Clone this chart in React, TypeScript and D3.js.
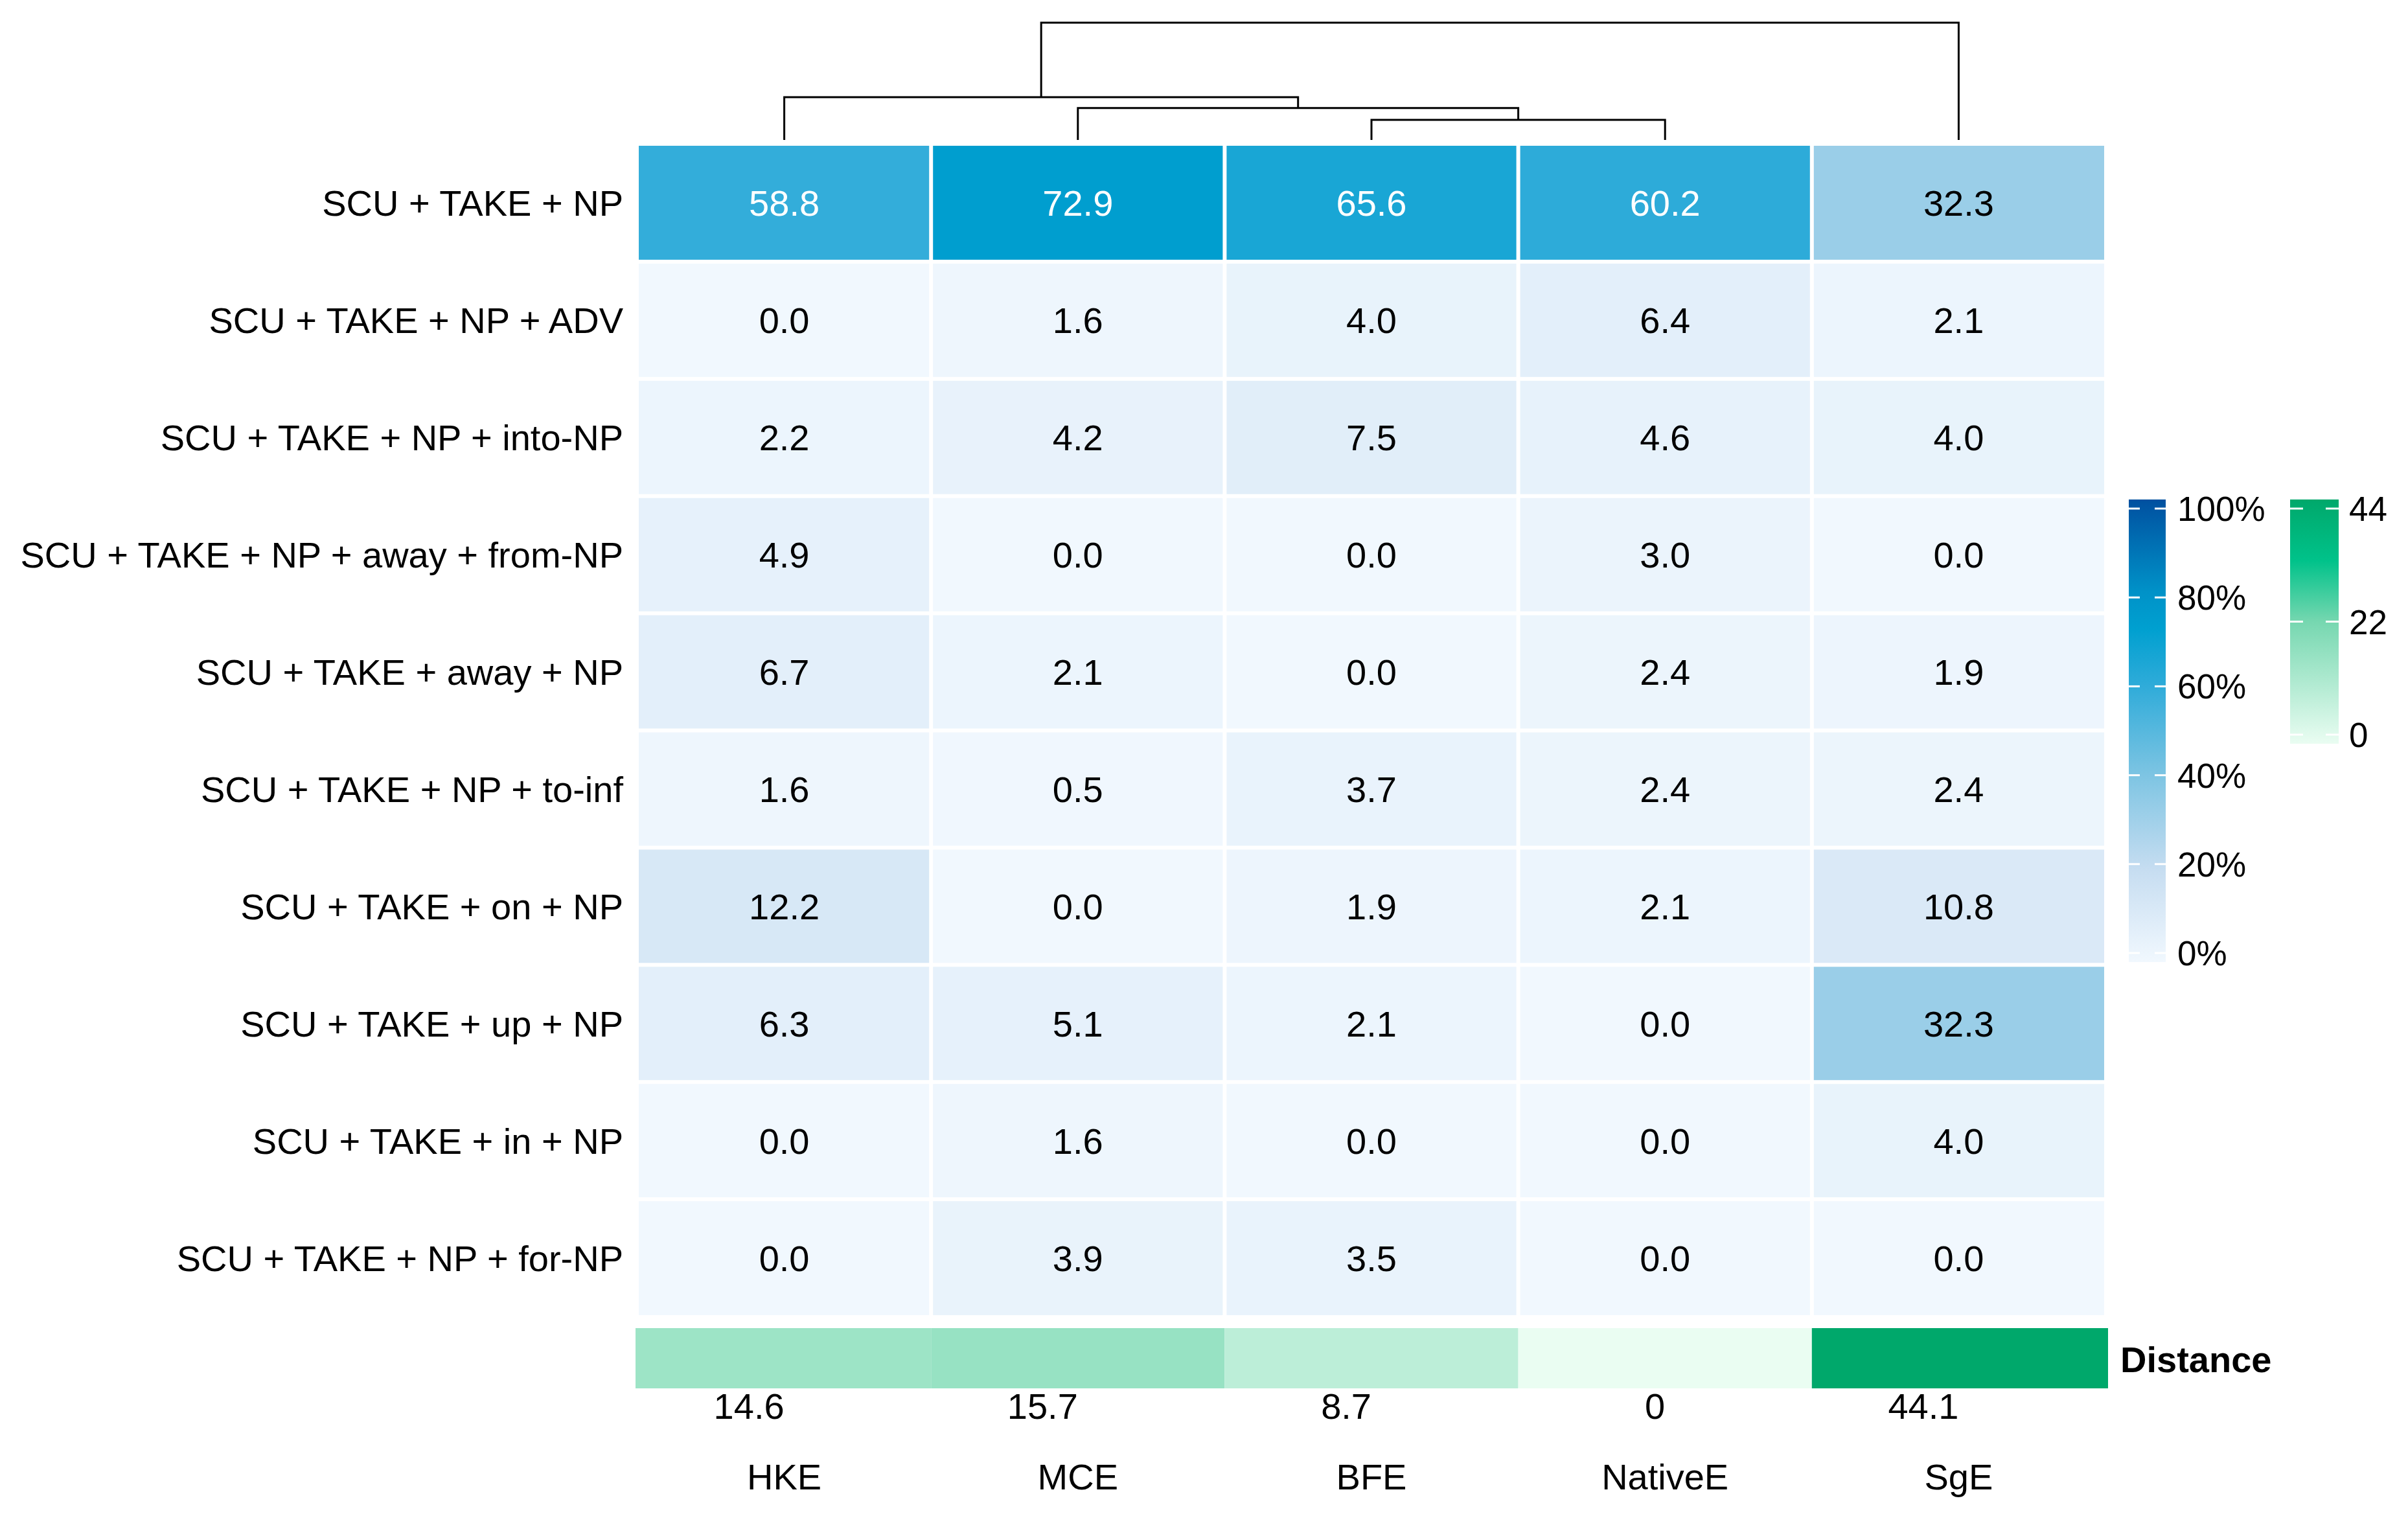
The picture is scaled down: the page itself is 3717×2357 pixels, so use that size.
import React, { useEffect } from "react";
import * as d3 from "d3";

const rowLabels = [
  "SCU + TAKE + NP",
  "SCU + TAKE + NP + ADV",
  "SCU + TAKE + NP + into-NP",
  "SCU + TAKE + NP + away + from-NP",
  "SCU + TAKE + away + NP",
  "SCU + TAKE + NP + to-inf",
  "SCU + TAKE + on + NP",
  "SCU + TAKE + up + NP",
  "SCU + TAKE + in + NP",
  "SCU + TAKE + NP + for-NP",
];
const columns = ["HKE", "MCE", "BFE", "NativeE", "SgE"];
const HKE = [58.8, 0.0, 2.2, 4.9, 6.7, 1.6, 12.2, 6.3, 0.0, 0.0];
const MCE = [72.9, 1.6, 4.2, 0.0, 2.1, 0.5, 0.0, 5.1, 1.6, 3.9];
const BFE = [65.6, 4.0, 7.5, 0.0, 0.0, 3.7, 1.9, 2.1, 0.0, 3.5];
const NativeE = [60.2, 6.4, 4.6, 3.0, 2.4, 2.4, 2.1, 0.0, 0.0, 0.0];
const SgE = [32.3, 2.1, 4.0, 0.0, 1.9, 2.4, 10.8, 32.3, 4.0, 0.0];
const seriesValues = [HKE, MCE, BFE, NativeE, SgE];
const distance = [14.6, 15.7, 8.7, 0, 44.1];
const distanceLabels = ["14.6", "15.7", "8.7", "0", "44.1"];

// dendrogram merges: [left, right, height]; leaves are column names
const merges: [string, string, number, string][] = [
  ["BFE", "NativeE", 8.7, "m1"],
  ["MCE", "m1", 13.8, "m2"],
  ["HKE", "m2", 18.5, "m3"],
  ["m3", "SgE", 50.8, "root"],
];

const pctTicks = [0, 20, 40, 60, 80, 100];
const pctTickLabels = ["0%", "20%", "40%", "60%", "80%", "100%"];
const distTicks = [0, 22, 44];
const distTickLabels = ["0", "22", "44"];

const blueStops = [0, 20, 40, 60, 72, 80, 100];
const blueColors = ["#f1f8fe", "#c6ddf1", "#7fc5e3", "#2eabd9", "#00a0d0", "#0092c8", "#0050a0"];
const greenStops = [0, 22, 33, 44];
const greenColors = ["#eafdf2", "#76d7b0", "#00c28a", "#00a86b"];

const FONT = "'Liberation Sans', Arial, Helvetica, sans-serif";

export default function App() {
  useEffect(() => {
    document.body.style.margin = "0";
  }, []);

  const W = 3717;
  const H = 2357;
  const hx0 = 984, hx1 = 3250, hy0 = 223, hy1 = 2032;

  const x = d3.scaleBand<string>().domain(columns).range([hx0, hx1]);
  const y = d3.scaleBand<string>().domain(rowLabels).range([hy0, hy1]);
  const blue = d3.scaleLinear<string>().domain(blueStops).range(blueColors).interpolate(d3.interpolateRgb).clamp(true);
  const green = d3.scaleLinear<string>().domain(greenStops).range(greenColors).interpolate(d3.interpolateRgb).clamp(true);

  const dendY = d3.scaleLinear().domain([0, 50.8]).range([216, 35]);

  // compute node positions
  const pos: Record<string, { x: number; h: number }> = {};
  columns.forEach((c) => (pos[c] = { x: x(c)! + x.bandwidth() / 2, h: 0 }));
  const dendPaths: string[] = [];
  merges.forEach(([a, b, h, id]) => {
    const pa = pos[a], pb = pos[b];
    const yy = dendY(h);
    const p = d3.path();
    p.moveTo(pa.x, dendY(pa.h));
    p.lineTo(pa.x, yy);
    p.lineTo(pb.x, yy);
    p.lineTo(pb.x, dendY(pb.h));
    dendPaths.push(p.toString());
    pos[id] = { x: (pa.x + pb.x) / 2, h };
  });

  const legPct = d3.scaleLinear().domain([0, 100]).range([1471, 785]);
  const legDist = d3.scaleLinear().domain([0, 44]).range([1134, 785]);

  const annY0 = 2050, annY1 = 2143;
  const gap = 3;

  return (
    <svg width={W} height={H} viewBox={`0 0 ${W} ${H}`} style={{ display: "block", background: "#fff" }} fontFamily={FONT}>
      <defs>
        <linearGradient id="blueGrad" x1="0" y1="1" x2="0" y2="0">
          {blueStops.map((s, i) => (
            <stop key={i} offset={`${s}%`} stopColor={blueColors[i]} />
          ))}
        </linearGradient>
        <linearGradient id="greenGrad" x1="0" y1="1" x2="0" y2="0">
          {greenStops.map((s, i) => (
            <stop key={i} offset={`${(s / 44) * 100}%`} stopColor={greenColors[i]} />
          ))}
        </linearGradient>
      </defs>

      {/* dendrogram */}
      <g fill="none" stroke="#000" strokeWidth={3}>
        {dendPaths.map((d, i) => (
          <path key={i} d={d} />
        ))}
      </g>

      {/* heatmap cells */}
      {columns.map((c, ci) =>
        rowLabels.map((r, ri) => {
          const v = seriesValues[ci][ri];
          const cx = x(c)!, cy = y(r)!;
          return (
            <g key={`${c}-${ri}`}>
              <rect
                x={cx + (ci === 0 ? 2 : gap)}
                y={cy + (ri === 0 ? 2 : gap)}
                width={x.bandwidth() - (ci === 0 ? 2 : gap) - (ci === columns.length - 1 ? 2 : gap)}
                height={y.bandwidth() - (ri === 0 ? 2 : gap) - (ri === rowLabels.length - 1 ? 2 : gap)}
                fill={blue(v)}
              />
              <text
                x={cx + x.bandwidth() / 2}
                y={cy + y.bandwidth() / 2 + 20}
                textAnchor="middle"
                fontSize={56}
                fill={v > 50 ? "#fff" : "#000"}
              >
                {v.toFixed(1)}
              </text>
            </g>
          );
        })
      )}

      {/* row labels */}
      {rowLabels.map((r) => (
        <text key={r} x={962} y={y(r)! + y.bandwidth() / 2 + 20} textAnchor="end" fontSize={56} fill="#000">
          {r}
        </text>
      ))}

      {/* distance annotation */}
      {columns.map((c, ci) => (
        <rect
          key={`ann-${c}`}
          x={ci === 0 ? 981 : x(c)!}
          y={annY0}
          width={x.bandwidth() + (ci === 0 ? 3 : 0) + (ci === columns.length - 1 ? 4 : 0)}
          height={annY1 - annY0}
          fill={green(distance[ci])}
        />
      ))}
      <text x={3273} y={2098 + 20} fontSize={56} fontWeight="bold" fill="#000">
        Distance
      </text>
      {columns.map((c, ci) => (
        <text key={`dl-${c}`} x={x(c)! + x.bandwidth() / 2} y={2190} textAnchor="end" fontSize={56} fill="#000">
          {distanceLabels[ci]}
        </text>
      ))}

      {/* column labels */}
      {columns.map((c) => (
        <text key={`cl-${c}`} x={x(c)! + x.bandwidth() / 2} y={2299} textAnchor="middle" fontSize={56} fill="#000">
          {c}
        </text>
      ))}

      {/* legends */}
      <rect x={3286} y={771} width={57} height={1485 - 771} fill="url(#blueGrad)" />
      {pctTicks.map((t, i) => (
        <g key={`pt-${t}`}>
          <line x1={3286} x2={3303} y1={legPct(t)} y2={legPct(t)} stroke="#fff" strokeWidth={3} />
          <line x1={3326} x2={3343} y1={legPct(t)} y2={legPct(t)} stroke="#fff" strokeWidth={3} />
          <text x={3361} y={legPct(t) + 19} fontSize={53} fill="#000">
            {pctTickLabels[i]}
          </text>
        </g>
      ))}
      <rect x={3535} y={771} width={75} height={1148 - 771} fill="url(#greenGrad)" />
      {distTicks.map((t, i) => (
        <g key={`dt-${t}`}>
          <line x1={3535} x2={3555} y1={legDist(t)} y2={legDist(t)} stroke="#fff" strokeWidth={3} />
          <line x1={3590} x2={3610} y1={legDist(t)} y2={legDist(t)} stroke="#fff" strokeWidth={3} />
          <text x={3626} y={legDist(t) + 19} fontSize={53} fill="#000">
            {distTickLabels[i]}
          </text>
        </g>
      ))}
    </svg>
  );
}
